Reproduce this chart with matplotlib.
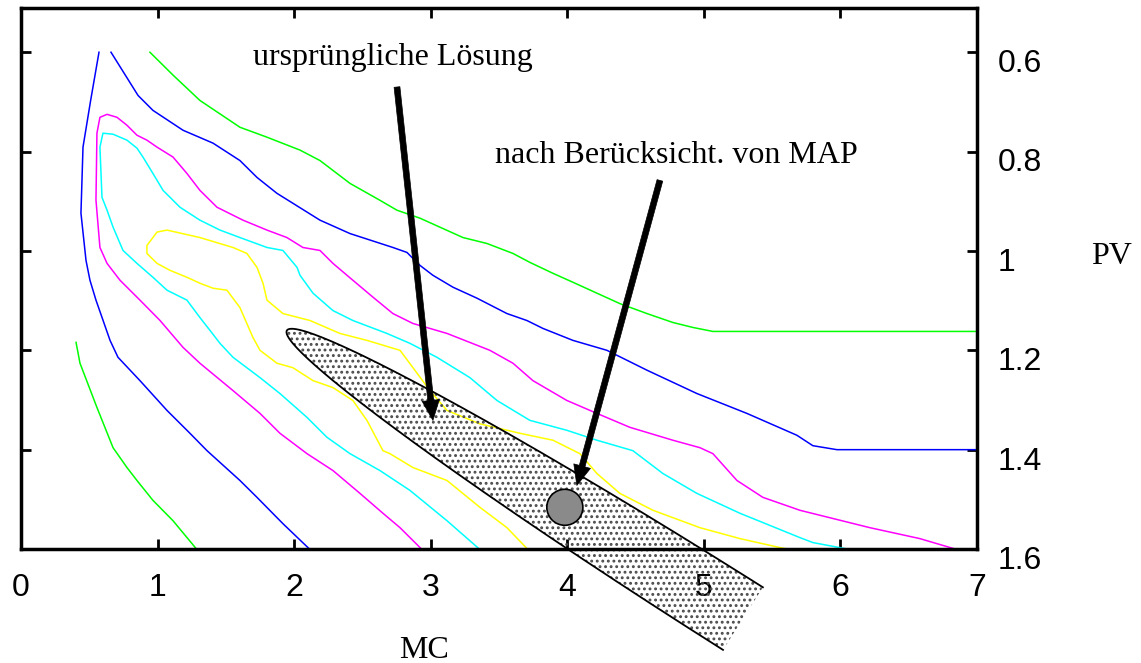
import numpy as np
import matplotlib
matplotlib.use("Agg")
import matplotlib.pyplot as plt
import matplotlib.transforms as mtransforms
from matplotlib.patches import Polygon, Ellipse

plt.rcParams['font.family'] = ['Liberation Sans', 'DejaVu Sans']
plt.rcParams['hatch.linewidth'] = 1.3

# contour lines (MC, PV)
green_top_x = [0.944, 1.113, 1.310, 1.603, 1.801, 2.043, 2.189, 2.409, 2.628, 2.753, 2.921, 3.236,
               3.412, 3.602, 3.726, 3.895, 4.041, 4.217, 4.385, 4.583, 4.773, 4.920, 5.066, 7.0]
green_top_y = [0.600, 0.646, 0.697, 0.751, 0.771, 0.797, 0.818, 0.864, 0.898, 0.918, 0.934, 0.973,
               0.985, 1.005, 1.023, 1.045, 1.063, 1.085, 1.106, 1.126, 1.144, 1.154, 1.162, 1.162]

blue_top_x = [0.659, 0.857, 0.966, 1.186, 1.406, 1.603, 1.728, 1.874, 2.189, 2.409, 2.723, 2.826,
              2.921, 3.016, 3.163, 3.338, 3.558, 3.704, 3.822, 4.041, 4.290, 4.583, 4.949, 5.315,
              5.681, 5.798, 5.974, 7.0]
blue_top_y = [0.600, 0.687, 0.717, 0.757, 0.783, 0.818, 0.852, 0.884, 0.938, 0.965, 0.993, 1.003,
              1.029, 1.049, 1.073, 1.095, 1.126, 1.140, 1.156, 1.180, 1.200, 1.240, 1.287, 1.327,
              1.371, 1.392, 1.400, 1.400]

blue_left_x = [0.571, 0.510, 0.454, 0.439, 0.476, 0.505, 0.549, 0.652, 0.710, 0.871, 1.069, 1.237,
               1.362, 1.603, 1.728, 1.918, 2.116]
blue_left_y = [0.600, 0.697, 0.791, 0.924, 1.019, 1.059, 1.099, 1.180, 1.214, 1.261, 1.321, 1.367,
               1.402, 1.462, 1.496, 1.549, 1.601]

magenta_x = [2.936, 2.775, 2.650, 2.482, 2.284, 2.094, 1.896, 1.750, 1.552, 1.310, 1.186, 1.018,
             0.871, 0.725, 0.630, 0.578, 0.549, 0.556, 0.578, 0.630, 0.703, 0.776, 0.849, 0.922,
             0.996, 1.113, 1.215, 1.310, 1.435, 1.625, 1.801, 1.947, 2.064, 2.189, 2.284, 2.430,
             2.577, 2.723, 2.870, 3.119, 3.433, 3.602, 3.748, 3.997, 4.217, 4.458, 4.773, 4.971,
             5.066, 5.242, 5.432, 5.703, 6.215, 6.581, 6.852]
magenta_y = [1.601, 1.557, 1.528, 1.488, 1.442, 1.408, 1.367, 1.327, 1.281, 1.226, 1.194, 1.140,
             1.099, 1.059, 1.025, 0.993, 0.898, 0.763, 0.731, 0.725, 0.731, 0.747, 0.767, 0.777,
             0.791, 0.811, 0.844, 0.878, 0.912, 0.938, 0.958, 0.973, 0.993, 0.999, 1.025, 1.059,
             1.093, 1.126, 1.146, 1.166, 1.200, 1.226, 1.261, 1.301, 1.327, 1.355, 1.381, 1.396,
             1.408, 1.462, 1.496, 1.522, 1.557, 1.579, 1.601]

cyan_x = [3.360, 3.119, 2.848, 2.628, 2.409, 2.240, 2.094, 1.896, 1.750, 1.552, 1.457, 1.384,
          1.310, 1.215, 1.069, 0.966, 0.849, 0.747, 0.674, 0.630, 0.593, 0.578, 0.600, 0.674,
          0.776, 0.849, 0.893, 0.966, 1.040, 1.164, 1.310, 1.457, 1.603, 1.801, 1.918, 2.021,
          2.043, 2.138, 2.284, 2.430, 2.679, 2.848, 3.045, 3.287, 3.485, 3.726, 3.997, 4.217,
          4.480, 4.700, 4.949, 5.264, 5.703, 5.798, 6.069]
cyan_y = [1.601, 1.543, 1.482, 1.442, 1.408, 1.375, 1.335, 1.287, 1.255, 1.214, 1.186, 1.160,
          1.134, 1.099, 1.079, 1.053, 1.025, 0.999, 0.952, 0.918, 0.892, 0.791, 0.763, 0.765,
          0.777, 0.793, 0.811, 0.844, 0.878, 0.912, 0.938, 0.958, 0.973, 0.993, 0.999, 1.033,
          1.049, 1.085, 1.120, 1.140, 1.166, 1.186, 1.214, 1.255, 1.301, 1.341, 1.361, 1.381,
          1.402, 1.448, 1.488, 1.528, 1.577, 1.587, 1.601]

yellow_x = [3.712, 3.558, 3.360, 3.119, 2.870, 2.701, 2.650, 2.533, 2.430, 2.284, 2.138, 1.991,
            1.874, 1.750, 1.698, 1.603, 1.508, 1.406, 1.310, 1.215, 1.091, 0.996, 0.922, 0.922,
            0.996, 1.069, 1.310, 1.552, 1.654, 1.728, 1.772, 1.801, 1.918, 2.116, 2.335, 2.533,
            2.775, 2.870, 2.994, 3.119, 3.360, 3.653, 3.895, 4.092, 4.217, 4.385, 4.627, 4.971,
            5.264, 5.556, 5.630]
yellow_y = [1.601, 1.557, 1.516, 1.462, 1.436, 1.408, 1.402, 1.341, 1.301, 1.275, 1.261, 1.235,
            1.226, 1.200, 1.174, 1.114, 1.079, 1.075, 1.065, 1.053, 1.039, 1.025, 1.005, 0.989,
            0.962, 0.958, 0.973, 0.993, 1.005, 1.033, 1.065, 1.099, 1.126, 1.140, 1.166, 1.180,
            1.200, 1.235, 1.281, 1.321, 1.348, 1.367, 1.381, 1.408, 1.448, 1.488, 1.522, 1.557,
            1.579, 1.597, 1.601]

green_low_x = [0.403, 0.432, 0.556, 0.674, 0.776, 0.849, 0.966, 1.113, 1.288]
green_low_y = [1.184, 1.226, 1.315, 1.396, 1.436, 1.462, 1.502, 1.543, 1.601]

red_x = [7.0, 7.0]
red_y = [1.402, 1.476]

# confidence band (half ellipse) and MAP point
band_center = np.array([5.286, 1.740])
band_tip = np.array([1.947, 1.160])
band_half = np.array([0.146, -0.063])
map_x, map_y = 3.982, 1.516
map_w, map_h = 0.264, 0.0725

arrow1_from = (2.753, 0.670)
arrow1_to = (3.016, 1.341)
arrow2_from = (4.678, 0.858)
arrow2_to = (4.070, 1.472)

fig = plt.figure(figsize=(11.41, 6.63), dpi=100)
ax = fig.add_axes([0.0184, 0.1719, 0.8379, 0.8160])

lw = 1.1
ax.plot(green_top_x, green_top_y, color='#00ff00', lw=lw)
ax.plot(blue_top_x, blue_top_y, color='#0000ff', lw=lw)
ax.plot(blue_left_x, blue_left_y, color='#0000ff', lw=lw)
ax.plot(magenta_x, magenta_y, color='#ff00ff', lw=lw)
ax.plot(cyan_x, cyan_y, color='#00ffff', lw=lw)
ax.plot(yellow_x, yellow_y, color='#ffff00', lw=lw)
ax.plot(green_low_x, green_low_y, color='#00ff00', lw=lw)
ax.plot(red_x, red_y, color='red', lw=lw)

t = np.linspace(-np.pi / 2, np.pi / 2, 200)
u = band_tip - band_center
pts = band_center + np.outer(np.cos(t), u) + np.outer(np.sin(t), band_half)
band = Polygon(pts, closed=True, facecolor='none', edgecolor='#4a4a4a', lw=0,
               hatch='...', clip_on=False, zorder=2.2)
ax.add_patch(band)
ax.plot(pts[:, 0], pts[:, 1], color='black', lw=1.3, clip_on=False, zorder=2.2)

ax.add_patch(Ellipse((map_x, map_y), map_w, map_h, facecolor='#8a8a8a',
                     edgecolor='black', lw=1.2, zorder=5))

arrow_style = 'simple,head_length=0.72,head_width=0.62,tail_width=0.21'
for a, b in [(arrow1_from, arrow1_to), (arrow2_from, arrow2_to)]:
    ax.annotate('', xy=b, xytext=a,
                arrowprops=dict(arrowstyle=arrow_style, mutation_scale=20,
                                fc='black', ec='black', lw=0.5, shrinkA=0, shrinkB=0),
                zorder=6)

ax.text(2.723, 0.610, 'ursprüngliche Lösung', family='Liberation Serif', fontsize=23,
        ha='center', va='center')
ax.text(4.802, 0.807, 'nach Berücksicht. von MAP', family='Liberation Serif', fontsize=23,
        ha='center', va='center')

ax.set_xlim(0, 7)
ax.set_ylim(1.6, 0.511)
ax.set_xticks(range(8))
ax.set_yticks([0.6, 0.8, 1.0, 1.2, 1.4, 1.6])
ax.set_yticklabels(['0.6', '0.8', '1', '1.2', '1.4', '1.6'])
ax.tick_params(direction='in', length=7, width=2, top=True, right=True, left=True,
               labelleft=False, labelright=True, labelsize=23)
ax.tick_params(axis='x', pad=17)
ax.tick_params(axis='y', pad=15)
for sp in ax.spines.values():
    sp.set_linewidth(2.5)

shift = mtransforms.ScaledTranslation(0, -6 / 72, fig.dpi_scale_trans)
for lab in ax.get_yticklabels():
    lab.set_transform(lab.get_transform() + shift)

ax.set_xlabel('MC', family='Liberation Serif', fontsize=23, va='center')
ax.xaxis.set_label_coords(0.4216, -0.187)
ax.yaxis.set_label_position('right')
ax.set_ylabel('PV', family='Liberation Serif', fontsize=23, rotation=0, va='center', ha='center')
ax.yaxis.set_label_coords(1.141, 0.540)

fig.savefig('out.png', dpi=100)
